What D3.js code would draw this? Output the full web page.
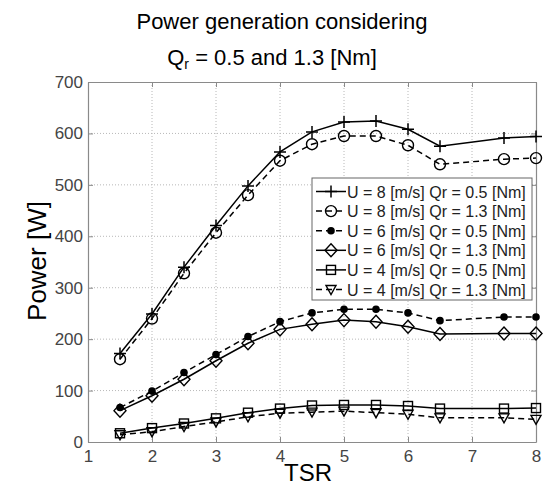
<!DOCTYPE html>
<meta charset="utf-8">
<script src="https://d3js.org/d3.v7.min.js"></script>
<style>
	body{
		margin:0;
		background:#fff;
		font-family: Arial, 'Liberation Sans', sans-serif;
	}
</style>
<div id="chart"></div>
<script>
	// TSR values (no point at 7)
	var tsr = [1.5,2,2.5,3,3.5,4,4.5,5,5.5,6,6.5,7.5,8]

	var u8q05 = [172,249,340,421,498,564,603,622,624,608,575,591,594]
	var u8q13 = [161,240,328,407,480,547,579,595,595,577,540,550,552]
	var u6q05 = [67,99,135,170,205,234,251,258,258,251,236,243,243]
	var u6q13 = [61,90,122,158,192,219,229,237,234,224,210,211,211]
	var u4q05 = [17,27,36,46,57,65,71,72,72,70,65,65,66]
	var u4q13 = [14,20,30,39,49,56,58,60,57,54,47,47,44]

	var seriesNames = ["U = 8 [m/s] Qr = 0.5 [Nm]","U = 8 [m/s] Qr = 1.3 [Nm]","U = 6 [m/s] Qr = 0.5 [Nm]",
		"U = 6 [m/s] Qr = 1.3 [Nm]","U = 4 [m/s] Qr = 0.5 [Nm]","U = 4 [m/s] Qr = 1.3 [Nm]"]
	var seriesMarkers = ["plus","circle","dot","diamond","square","triangle"]
	var seriesDashed = [false,true,true,false,false,true]
	var allValues = [u8q05,u8q13,u6q05,u6q13,u4q05,u4q13]

	var xTicks = [1,2,3,4,5,6,7,8]
	var yTicks = [0,100,200,300,400,500,600,700]

	var W = 543, H = 486
	var pLeft = 88, pRight = 536, pTop = 82, pBottom = 442

	var svg = d3.select("#chart").append("svg").attr("width",W).attr("height",H)

	var xScale = d3.scaleLinear().domain([1,8]).range([pLeft,pRight])
	var yScale = d3.scaleLinear().domain([0,700]).range([pBottom,pTop])

	// grid
	var grid = svg.append("g")
	grid.selectAll(".gx").data(xTicks.slice(1,-1)).enter().append("line")
		.attr("x1",function(d){return xScale(d)}).attr("x2",function(d){return xScale(d)})
		.attr("y1",pTop).attr("y2",pBottom)
		.attr("stroke","#b8b8b8").attr("stroke-dasharray","1,2")
	grid.selectAll(".gy").data(yTicks.slice(1,-1)).enter().append("line")
		.attr("y1",function(d){return yScale(d)}).attr("y2",function(d){return yScale(d)})
		.attr("x1",pLeft).attr("x2",pRight)
		.attr("stroke","#b8b8b8").attr("stroke-dasharray","1,2")

	// axes (matlab style box with inward ticks)
	var xAxis = d3.axisBottom(xScale).tickValues(xTicks).tickFormat(d3.format("d")).tickSizeInner(-5).tickSizeOuter(0).tickPadding(8)
	var yAxis = d3.axisLeft(yScale).tickValues(yTicks).tickFormat(d3.format("d")).tickSizeInner(-5).tickSizeOuter(0).tickPadding(5)
	var xAxisTop = d3.axisTop(xScale).tickValues(xTicks).tickSizeInner(-5).tickSizeOuter(0).tickFormat("")
	var yAxisRight = d3.axisRight(yScale).tickValues(yTicks).tickSizeInner(-5).tickSizeOuter(0).tickFormat("")

	svg.append("g").attr("transform","translate(0,"+pBottom+")").call(xAxis)
	svg.append("g").attr("transform","translate("+pLeft+",0)").call(yAxis)
	svg.append("g").attr("transform","translate(0,"+pTop+")").call(xAxisTop)
	svg.append("g").attr("transform","translate("+pRight+",0)").call(yAxisRight)

	svg.selectAll(".domain").attr("stroke","#8a8a8a").attr("stroke-width",1.2)
	svg.selectAll(".tick line").attr("stroke","#8a8a8a")
	svg.selectAll(".tick text").attr("fill","#444").style("font-size","17px").style("font-family","Arial, 'Liberation Sans', sans-serif")

	// markers
	function drawMarker(g,type,x,y){
		if(type=="plus"){
			g.append("path").attr("d","M"+(x-6)+","+y+"H"+(x+6)+"M"+x+","+(y-6)+"V"+(y+6))
				.attr("stroke","#000").attr("stroke-width",1.5).attr("fill","none")
		}else if(type=="circle"){
			g.append("circle").attr("cx",x).attr("cy",y).attr("r",5.5)
				.attr("stroke","#000").attr("stroke-width",1.4).attr("fill","none")
		}else if(type=="dot"){
			g.append("circle").attr("cx",x).attr("cy",y).attr("r",3.8).attr("fill","#000")
		}else if(type=="diamond"){
			g.append("path").attr("d","M"+x+","+(y-6.5)+"L"+(x+6)+","+y+"L"+x+","+(y+6.5)+"L"+(x-6)+","+y+"Z")
				.attr("stroke","#000").attr("stroke-width",1.4).attr("fill","none")
		}else if(type=="square"){
			g.append("rect").attr("x",x-4.5).attr("y",y-4.5).attr("width",9).attr("height",9)
				.attr("stroke","#000").attr("stroke-width",1.4).attr("fill","none")
		}else if(type=="triangle"){
			g.append("path").attr("d","M"+(x-5)+","+(y-4)+"L"+(x+5)+","+(y-4)+"L"+x+","+(y+5)+"Z")
				.attr("stroke","#000").attr("stroke-width",1.4).attr("fill","none")
		}
	}

	var line = d3.line()
		.x(function(d,i){return xScale(tsr[i])})
		.y(function(d){return yScale(d)})

	for(var s=0; s<allValues.length; s++){
		var g = svg.append("g")
		g.append("path").datum(allValues[s]).attr("d",line)
			.attr("fill","none").attr("stroke","#000").attr("stroke-width",1.5)
			.attr("stroke-dasharray",seriesDashed[s]?"6,4":null)
		for(var i=0; i<tsr.length; i++){
			drawMarker(g,seriesMarkers[s],xScale(tsr[i]),yScale(allValues[s][i]))
		}
	}

	// legend
	var lx = 312, ly = 178, lw = 220, lh = 122, rowH = 19.6
	var legend = svg.append("g")
	legend.append("rect").attr("x",lx).attr("y",ly).attr("width",lw).attr("height",lh)
		.attr("fill","#fff").attr("stroke","#666").attr("stroke-width",1)
	for(var s=0; s<seriesNames.length; s++){
		var cy = ly + 13.5 + s*rowH
		legend.append("line").attr("x1",lx+4).attr("x2",lx+34).attr("y1",cy).attr("y2",cy)
			.attr("stroke","#000").attr("stroke-width",1.5)
			.attr("stroke-dasharray",seriesDashed[s]?"6,4":null)
		drawMarker(legend,seriesMarkers[s],lx+19,cy)
		legend.append("text").attr("x",lx+35).attr("y",cy+6).text(seriesNames[s])
			.style("font-size","16px").attr("fill","#222")
	}

	// titles
	svg.append("text").attr("x",282).attr("y",29).attr("text-anchor","middle")
		.style("font-size","22px").text("Power generation considering")
	var t2 = svg.append("text").attr("x",272).attr("y",65).attr("text-anchor","middle").style("font-size","22px")
	t2.append("tspan").text("Q")
	t2.append("tspan").text("r").style("font-size","14px").attr("dy",4)
	t2.append("tspan").text(" = 0.5 and 1.3 [Nm]").attr("dy",-4)

	svg.append("text").attr("x",308).attr("y",481).attr("text-anchor","middle")
		.style("font-size","24px").text("TSR")
	svg.append("text").attr("transform","translate(46,261) rotate(-90)").attr("text-anchor","middle")
		.style("font-size","26px").text("Power [W]")
</script>
